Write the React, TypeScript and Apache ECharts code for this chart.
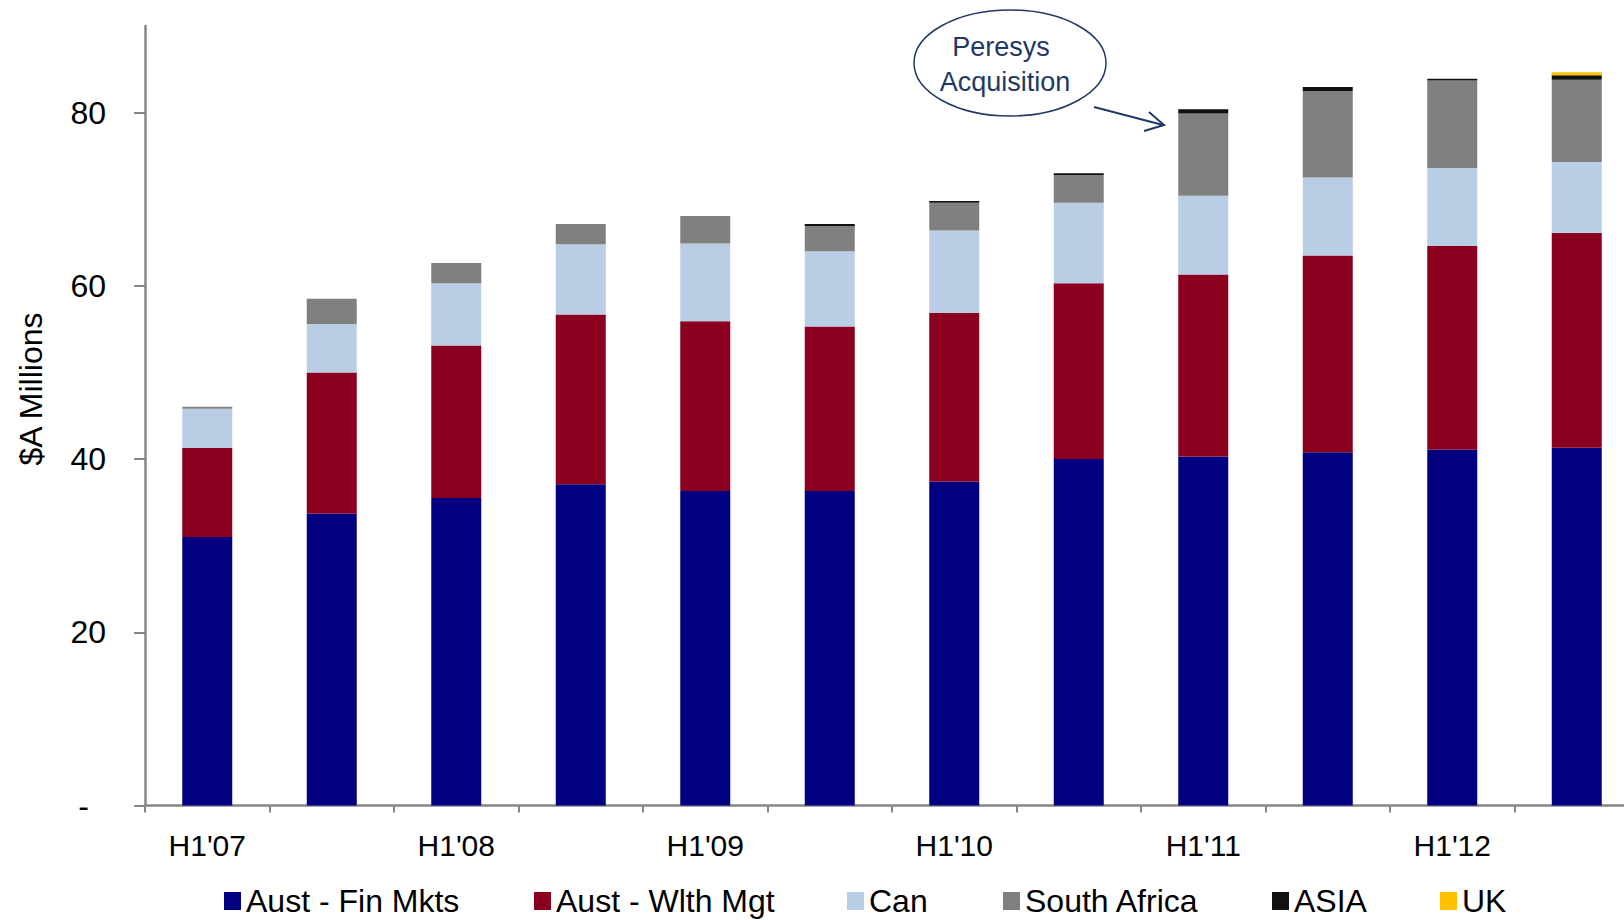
import React, { useEffect, useRef } from "react";
import * as echarts from "echarts";

// Half-year periods (only the H1 periods carry a label on the axis)
const periods = [
  "H1'07", "H2'07", "H1'08", "H2'08", "H1'09", "H2'09",
  "H1'10", "H2'10", "H1'11", "H2'11", "H1'12", "H2'12",
];

// Revenue by segment, $A millions
const austFinMkts = [31.0, 33.7, 35.5, 37.1, 36.3, 36.3, 37.4, 40.0, 40.3, 40.8, 41.1, 41.3];
const austWlthMgt = [10.3, 16.3, 17.6, 19.6, 19.6, 19.0, 19.5, 20.3, 21.0, 22.7, 23.5, 24.8];
const canada = [4.5, 5.6, 7.2, 8.1, 9.0, 8.7, 9.5, 9.3, 9.1, 9.0, 9.0, 8.2];
const southAfrica = [0.25, 2.9, 2.35, 2.35, 3.15, 2.9, 3.2, 3.2, 9.5, 10.0, 10.1, 9.5];
const asia = [0, 0, 0, 0, 0, 0.25, 0.2, 0.2, 0.5, 0.45, 0.2, 0.5];
const uk = [0, 0, 0, 0, 0, 0, 0, 0, 0, 0, 0, 0.35];

const yTicks = [0, 20, 40, 60, 80];

const FONT = "'Liberation Sans', Arial, sans-serif";
const AXIS_GREY = "#868686";
const NOTE_BLUE = "#1F3864";

const seriesDefs = [
  { name: "Aust - Fin Mkts", data: austFinMkts, color: "#000080" },
  { name: "Aust - Wlth Mgt", data: austWlthMgt, color: "#8B001E" },
  { name: "Can", data: canada, color: "#B9CDE5" },
  { name: "South Africa", data: southAfrica, color: "#808080" },
  { name: "ASIA", data: asia, color: "#111111" },
  { name: "UK", data: uk, color: "#FFC000" },
];

const legendLeft = [224, 534, 847, 1003, 1272, 1440];

// The plot runs a little past the visible right edge, so the canvas is wider than the frame
const CHART_W = 1639;
const CHART_H = 920;

export default function App() {
  const ref = useRef<HTMLDivElement>(null);

  useEffect(() => {
    if (!ref.current) return;
    const chart = echarts.init(ref.current, null, { renderer: "svg" });

    chart.setOption({
      animation: false,
      backgroundColor: "#ffffff",
      grid: { left: 145, right: 0, top: 26, bottom: 114.5, containLabel: false },
      legend: seriesDefs.map((s, i) => ({
        data: [s.name],
        left: legendLeft[i],
        top: 885,
        padding: 0,
        itemWidth: 17,
        itemHeight: 18,
        icon: "rect",
        selectedMode: false,
        textStyle: { fontFamily: FONT, fontSize: 32, color: "#000" },
      })),
      xAxis: {
        type: "category",
        data: periods,
        axisLine: { lineStyle: { color: AXIS_GREY, width: 2.5 } },
        axisTick: { show: true, interval: 0, length: 7, lineStyle: { color: AXIS_GREY, width: 2 } },
        axisLabel: { interval: 1, margin: 25, fontFamily: FONT, fontSize: 30, color: "#000" },
      },
      yAxis: {
        type: "value",
        min: 0,
        max: 90,
        splitLine: { show: false },
        axisLine: { show: true, lineStyle: { color: AXIS_GREY, width: 2.5 } },
        axisTick: {
          show: true,
          length: 11,
          customValues: yTicks,
          lineStyle: { color: AXIS_GREY, width: 2 },
        },
        axisLabel: {
          customValues: yTicks,
          margin: 39,
          fontFamily: FONT,
          fontSize: 32,
          color: "#000",
          formatter: (v: number) => (v === 0 ? "{d|-}" : String(v)),
          rich: { d: { fontFamily: FONT, fontSize: 32, color: "#000", padding: [0, 17, 0, 0] } },
        },
      },
      series: seriesDefs.map((s) => ({
        name: s.name,
        type: "bar",
        stack: "total",
        barWidth: 50,
        data: s.data,
        itemStyle: { color: s.color },
        emphasis: { disabled: true },
      })),
      graphic: [
        {
          type: "text",
          x: 31,
          y: 389,
          rotation: Math.PI / 2,
          style: {
            text: "$A Millions",
            fontFamily: FONT,
            fontSize: 32,
            fill: "#000",
            align: "center",
            verticalAlign: "middle",
          },
        },
        {
          type: "ellipse",
          shape: { cx: 1010, cy: 63, rx: 96, ry: 53 },
          style: { fill: "#ffffff", stroke: NOTE_BLUE, lineWidth: 1.5 },
          z: 10,
        },
        {
          type: "text",
          x: 1001,
          y: 47,
          style: {
            text: "Peresys",
            fontFamily: FONT,
            fontSize: 27,
            fill: NOTE_BLUE,
            align: "center",
            verticalAlign: "middle",
          },
          z: 11,
        },
        {
          type: "text",
          x: 1005,
          y: 82,
          style: {
            text: "Acquisition",
            fontFamily: FONT,
            fontSize: 27,
            fill: NOTE_BLUE,
            align: "center",
            verticalAlign: "middle",
          },
          z: 11,
        },
        {
          type: "line",
          shape: { x1: 1094, y1: 107, x2: 1163, y2: 125 },
          style: { stroke: NOTE_BLUE, lineWidth: 2 },
          z: 10,
        },
        {
          type: "polyline",
          shape: { points: [[1149, 112], [1164, 125], [1144, 131]] },
          style: { stroke: NOTE_BLUE, lineWidth: 2, fill: "none" },
          z: 10,
        },
      ],
    });

    return () => chart.dispose();
  }, []);

  return (
    <div style={{ position: "fixed", left: 0, top: 0, width: 1624, height: 920, overflow: "hidden", background: "#fff" }}>
      <div ref={ref} style={{ width: CHART_W, height: CHART_H }} />
    </div>
  );
}
